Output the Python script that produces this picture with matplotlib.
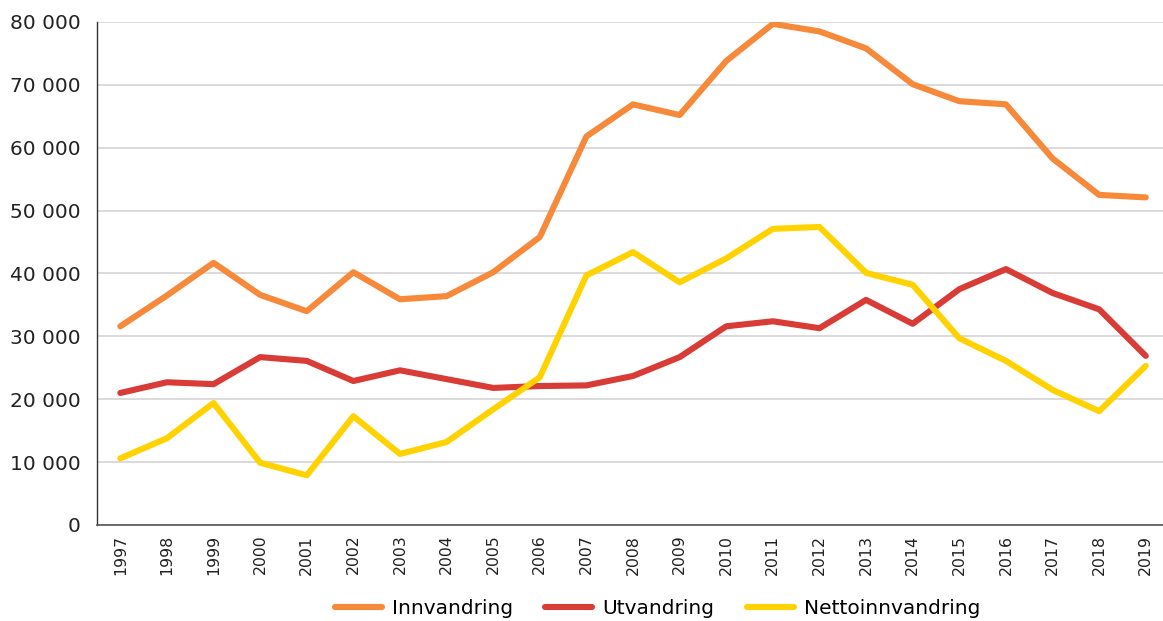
import matplotlib
matplotlib.use("Agg")
import matplotlib.pyplot as plt
from matplotlib.ticker import FuncFormatter

years = list(range(1997, 2020))
innvandring = [31600, 36500, 41700, 36600, 34000, 40200, 35900, 36400, 40200, 45800,
               61800, 66900, 65200, 73800, 79700, 78500, 75800, 70100, 67400, 66900,
               58300, 52500, 52100]
utvandring = [21000, 22700, 22400, 26700, 26100, 22900, 24600, 23200, 21800, 22100,
              22200, 23700, 26700, 31600, 32400, 31300, 35800, 32000, 37500, 40700,
              36900, 34300, 26900]
netto = [10600, 13800, 19400, 9900, 7900, 17300, 11300, 13200, 18400, 23500,
         39700, 43400, 38600, 42400, 47100, 47400, 40100, 38200, 29700, 26100,
         21500, 18100, 25300]

plt.rcParams['font.family'] = ['DejaVu Sans']

fig = plt.figure(figsize=(11.63, 6.21), dpi=100)
ax = fig.add_axes([0.0834, 0.1546, 0.9218, 0.81])

ax.plot(years, innvandring, color="#F7893A", lw=4.4, solid_capstyle="round", label="Innvandring", zorder=3)
ax.plot(years, utvandring, color="#D93B36", lw=4.4, solid_capstyle="round", label="Utvandring", zorder=3)
ax.plot(years, netto, color="#FFD200", lw=4.4, solid_capstyle="round", label="Nettoinnvandring", zorder=3)

ax.set_xlim(1996.5, 2019.5)
ax.set_ylim(0, 80000)
ax.set_yticks(range(0, 80001, 10000))
ax.yaxis.set_major_formatter(FuncFormatter(lambda v, p: f"{int(v):,}".replace(",", " ")))
ax.set_xticks(years)
ax.set_xticklabels([str(y) for y in years], rotation=90, fontsize=11.3, color="#222222")
ax.tick_params(axis="y", labelsize=14.5, colors="#222222", length=0, pad=12)
ax.tick_params(axis="x", length=0, pad=7)

ax.grid(axis="y", color="#d4d4d4", lw=1.2)
ax.set_axisbelow(True)
for s in ["top", "right"]:
    ax.spines[s].set_visible(False)
ax.spines["left"].set_color("#333333")
ax.spines["bottom"].set_color("#555555")
ax.spines["left"].set_linewidth(1.0)
ax.spines["bottom"].set_linewidth(1.2)

fig.legend(loc="center", bbox_to_anchor=(0.5654, 0.02), ncol=3, frameon=False,
           fontsize=14.5, handlelength=2.34, columnspacing=1.6, handletextpad=0.5)

fig.savefig("out.png", dpi=100)
